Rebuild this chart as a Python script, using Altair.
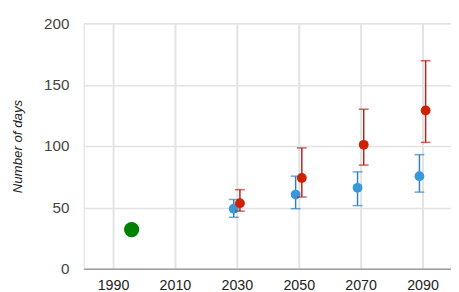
import altair as alt
import pandas as pd

# Observed baseline
obs_year = [1996]
obs_value = [32]

# Lower-emission scenario (blue)
blue_year = [2029, 2049, 2069, 2089]
blue_value = [49, 60.5, 66, 75.5]
blue_lo = [42, 49, 51.5, 62.5]
blue_hi = [56.5, 75.5, 79, 93]

# Higher-emission scenario (red)
red_year = [2031, 2051, 2071, 2091]
red_value = [53.5, 74, 101, 129]
red_lo = [47, 58.5, 84.5, 103]
red_hi = [64.5, 98.5, 130, 169.5]

x_ticks = [1990, 2010, 2030, 2050, 2070, 2090]
y_ticks = [0, 50, 100, 150, 200]

obs = pd.DataFrame({"year": obs_year, "value": obs_value})
blue = pd.DataFrame({"year": blue_year, "value": blue_value, "lo": blue_lo, "hi": blue_hi})
red = pd.DataFrame({"year": red_year, "value": red_value, "lo": red_lo, "hi": red_hi})

xscale = alt.Scale(domain=[1980.5, 2099.2], nice=False, zero=False)
yscale = alt.Scale(domain=[0, 200], nice=False)

xaxis = alt.Axis(values=x_ticks, format="d", title=None, tickSize=0,
                 labelFontSize=14.5, labelColor="#222222", labelPadding=10,
                 labelFont="Liberation Sans", grid=True, gridColor="#e3e3e3",
                 gridWidth=2, domainColor="#9e9e9e", domainWidth=1.5)
yaxis = alt.Axis(values=y_ticks, title="Number of days", tickSize=0,
                 labelFontSize=15.5, labelColor="#444444", labelPadding=15,
                 labelFont="Liberation Sans", grid=True, gridColor="#e3e3e3",
                 gridWidth=1.5, domain=False,
                 titleFont="Liberation Sans", titleFontSize=13.5, titleFontStyle="italic",
                 titleFontWeight="normal", titleColor="#222222", titleAngle=270,
                 titleX=-67, titleY=125, titleAlign="center", titleBaseline="middle")

X = alt.X("year:Q", scale=xscale, axis=xaxis)
Y = alt.Y("value:Q", scale=yscale, axis=yaxis)


def series(df, color, bar_color):
    base = alt.Chart(df)
    rule = base.mark_rule(color=bar_color, strokeWidth=1.5).encode(
        x=alt.X("year:Q", scale=xscale), y=alt.Y("lo:Q", scale=yscale), y2="hi:Q")
    cap_lo = base.mark_tick(color=bar_color, orient="horizontal", size=10, thickness=1.5).encode(
        x=alt.X("year:Q", scale=xscale), y=alt.Y("lo:Q", scale=yscale))
    cap_hi = base.mark_tick(color=bar_color, orient="horizontal", size=10, thickness=1.5).encode(
        x=alt.X("year:Q", scale=xscale), y=alt.Y("hi:Q", scale=yscale))
    pts = base.mark_circle(color=color, size=100, opacity=1).encode(
        x=alt.X("year:Q", scale=xscale), y=alt.Y("value:Q", scale=yscale))
    return [rule, cap_lo, cap_hi, pts]


axes = alt.Chart(obs).mark_circle(size=0, opacity=0).encode(x=X, y=Y)
green = alt.Chart(obs).mark_circle(color="#008000", size=240, opacity=1).encode(
    x=alt.X("year:Q", scale=xscale), y=alt.Y("value:Q", scale=yscale))

chart = alt.layer(
    axes,
    *series(blue, "#3a97da", "#2f80c2"),
    *series(red, "#cc2200", "#b3261a"),
    green,
).properties(
    width=374, height=250,
    autosize=alt.AutoSizeParams(type="none"),
    padding={"left": 77, "top": 13, "right": 0, "bottom": 21},
).configure_view(stroke=None).configure(background="white")

chart.save("out.html", embed_options={"renderer": "svg", "actions": False})
